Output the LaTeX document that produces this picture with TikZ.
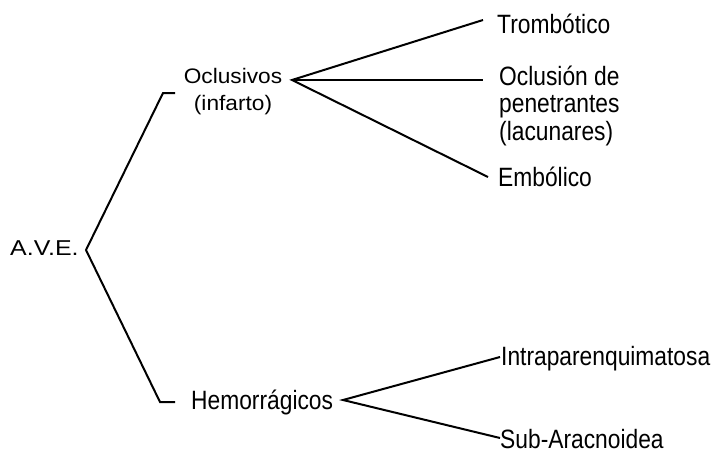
\documentclass[tikz,border=0pt]{standalone}
\usepackage{fontspec}
\setmainfont{Liberation Sans}
\newfontfamily\letraAlta[FakeStretch=0.86]{Liberation Sans}
\newfontfamily\letraBaja[FakeStretch=1.08]{Liberation Sans}

\tikzset{
  etiqueta/.style={inner sep=0pt, anchor=base west, font=\letraAlta\fontsize{26.5}{27.5}\selectfont},
  etiquetaBaja/.style={inner sep=0pt, font=\letraBaja\fontsize{21}{27}\selectfont},
  rama/.style={draw=black, line width=2pt, line join=miter}
}

\begin{document}
\begin{tikzpicture}[x=1pt, y=-1pt]

  % Fondo y marco
  \fill[white] (0,0) rectangle (712,453);
  \useasboundingbox (0,0) rectangle (712,453);

  % Textos (en nodos de varias lineas, base = ultima linea)
  \node[etiquetaBaja, anchor=base west, font=\letraBaja\fontsize{21.5}{27}\selectfont\addfontfeature{FakeStretch=1.16}] (ave) at (10,255) {A.V.E.};
  \node[etiquetaBaja, anchor=base, align=center] (oclus) at (233,110) {Oclusivos\\(infarto)};
  \node[etiqueta] (hemo) at (191,409) {Hemorrágicos};
  \node[etiqueta] (trombo) at (497,33) {Trombótico};
  \node[etiqueta, align=left] (lacun) at (499,140) {Oclusión de\\penetrantes\\(lacunares)};
  \node[etiqueta] (embo) at (498,186) {Embólico};
  \node[etiqueta] (intra) at (501,365) {Intraparenquimatosa};
  \node[etiqueta] (subar) at (500,448) {Sub-Aracnoidea};

  % Vértices y extremos de las ramas
  \coordinate (aveTip) at (86,250);
  \coordinate (oclFoot) at (175,93);
  \coordinate (hemFoot) at (175,402);
  \coordinate (oclTip) at (292,80);
  \coordinate (hemTip) at (343,400);
  \coordinate (tromboEnd) at (483,20);
  \coordinate (lacunEnd) at (483,80);
  \coordinate (emboEnd) at (488,177);
  \coordinate (intraEnd) at (500,357);
  \coordinate (subarEnd) at (500,438);

  % Llave principal
  \draw[rama] (oclFoot) -- ++(-12,0) -- (aveTip) -- (160,402) -- (hemFoot);

  % Ramas de los oclusivos
  \draw[rama] (tromboEnd) -- (oclTip) -- (emboEnd);
  \draw[rama] (oclTip) -- (lacunEnd);

  % Ramas de los hemorrágicos
  \draw[rama] (intraEnd) -- (hemTip) -- (subarEnd);

\end{tikzpicture}
\end{document}
